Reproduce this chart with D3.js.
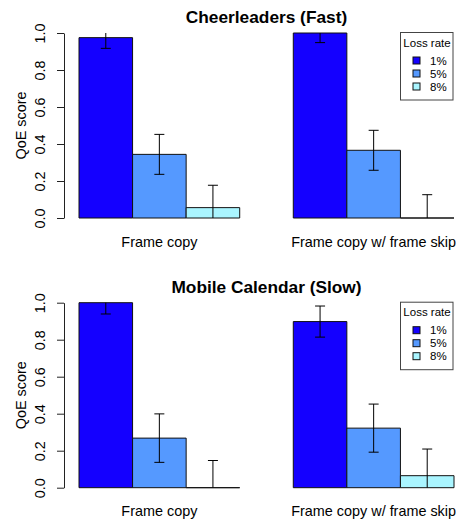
<!DOCTYPE html>
<html>
<head>
<meta charset="utf-8">
<script src="https://cdn.jsdelivr.net/npm/d3@7"></script>
<style>
  body { margin: 0; background: #fff; }
  svg { display: block; font-family: "Liberation Sans", Arial, Helvetica, sans-serif; }
</style>
</head>
<body>
<div id="chart"></div>
<script>
// chart data
var groups = ["Frame copy", "Frame copy w/ frame skip"];
var lossRates = ["1%", "5%", "8%"];
var lossColors = ["#1400ff", "#5599ff", "#aaf5ff"];
var yTicks = [0, 0.2, 0.4, 0.6, 0.8, 1.0];
var titles = ["Cheerleaders (Fast)", "Mobile Calendar (Slow)"];

// mean QoE per group (rows) and loss rate (cols)
var cheerValues = [[0.975, 0.344, 0.056], [1.0, 0.366, 0.0]];
var cheerErrors = [[0.058, 0.108, 0.121], [0.052, 0.108, 0.126]];
var calendarValues = [[1.0, 0.268, 0.0], [0.898, 0.322, 0.065]];
var calendarErrors = [[0.061, 0.131, 0.147], [0.084, 0.130, 0.144]];

var width = 459, height = 519;
var svg = d3.select("#chart").append("svg")
    .attr("width", width)
    .attr("height", height);

var x = d3.scaleLinear().domain([0.72, 8.28]).range([64, 469]);
var y = d3.scaleLinear().domain([0, 1]).range([218, 33]);

drawPanel(0, titles[0], cheerValues, cheerErrors);
drawPanel(269.7, titles[1], calendarValues, calendarErrors);

function drawPanel(offset, title, values, errors) {
    var g = svg.append("g").attr("transform", "translate(0," + offset + ")");

    // bars, R barplot(beside=TRUE) style positions: group g, bar i -> 1 + 4g + i
    var bars = [];
    values.forEach(function(row, gi) {
        row.forEach(function(v, i) {
            bars.push({g: gi, i: i, v: v, e: errors[gi][i], left: 1 + 4 * gi + i});
        });
    });

    g.selectAll(".bar")
        .data(bars)
      .enter().append("path")
        .attr("class", "bar")
        .attr("d", function(d) {
            var x0 = x(d.left), x1 = x(d.left + 1), y0 = y(0), y1 = y(d.v);
            return "M" + x0 + "," + y0 + "H" + x1 + "V" + y1 + "H" + x0 + "Z";
        })
        .style("fill", function(d) { return lossColors[d.i]; })
        .style("stroke", "#111")
        .style("stroke-width", 1);

    // error bars, clipped to [0, 1], caps only where not clipped
    var capW = 5;
    var err = g.selectAll(".err")
        .data(bars)
      .enter().append("g")
        .attr("class", "err")
        .style("stroke", "#000")
        .style("stroke-width", 1);

    err.append("line")
        .attr("x1", function(d) { return x(d.left + 0.5); })
        .attr("x2", function(d) { return x(d.left + 0.5); })
        .attr("y1", function(d) { return y(Math.max(0, d.v - d.e)); })
        .attr("y2", function(d) { return y(Math.min(1, d.v + d.e)); });

    err.filter(function(d) { return d.v + d.e <= 1; }).append("line")
        .attr("x1", function(d) { return x(d.left + 0.5) - capW; })
        .attr("x2", function(d) { return x(d.left + 0.5) + capW; })
        .attr("y1", function(d) { return y(d.v + d.e); })
        .attr("y2", function(d) { return y(d.v + d.e); });

    err.filter(function(d) { return d.v - d.e >= 0; }).append("line")
        .attr("x1", function(d) { return x(d.left + 0.5) - capW; })
        .attr("x2", function(d) { return x(d.left + 0.5) + capW; })
        .attr("y1", function(d) { return y(d.v - d.e); })
        .attr("y2", function(d) { return y(d.v - d.e); });

    // y axis
    var axis = g.append("g")
        .attr("transform", "translate(" + x(0.72) + ",0)")
        .call(d3.axisLeft(y).tickValues(yTicks).tickFormat(d3.format(".1f")).tickSize(7).tickSizeOuter(0));
    axis.select(".domain").attr("stroke", "#222");
    axis.selectAll(".tick line").attr("stroke", "#222");
    axis.selectAll(".tick text")
        .attr("x", 0)
        .attr("dy", null)
        .attr("y", -19.5)
        .attr("text-anchor", "middle")
        .attr("transform", "rotate(-90)")
        .style("font-family", "Liberation Sans, Arial, sans-serif")
        .style("font-size", "14.4px")
        .style("fill", "#000");

    g.append("text")
        .attr("transform", "translate(25.5," + (y(0.5)) + ") rotate(-90)")
        .attr("text-anchor", "middle")
        .style("font-size", "14.4px")
        .text("QoE score");

    // group labels
    g.selectAll(".glabel")
        .data(groups)
      .enter().append("text")
        .attr("class", "glabel")
        .attr("x", function(d, gi) { return x(2.5 + 4 * gi); })
        .attr("y", y(0) + 28.5)
        .attr("text-anchor", "middle")
        .style("font-size", "14.4px")
        .text(function(d) { return d; });

    // title
    g.append("text")
        .attr("x", (x(0.72) + x(8.28)) / 2)
        .attr("y", y(1) - 9.7)
        .attr("text-anchor", "middle")
        .style("font-size", "17.3px")
        .style("font-weight", "bold")
        .text(title);

    // legend
    var leg = g.append("g").attr("transform", "translate(400.5,32.5)");
    leg.append("rect")
        .attr("width", 52.5)
        .attr("height", 67.5)
        .style("fill", "#fff")
        .style("stroke", "#444")
        .style("stroke-width", 1);
    leg.append("text")
        .attr("x", 26.5)
        .attr("y", 14)
        .attr("text-anchor", "middle")
        .style("font-size", "11.5px")
        .text("Loss rate");
    var item = leg.selectAll(".item")
        .data(lossRates)
      .enter().append("g")
        .attr("class", "item")
        .attr("transform", function(d, i) { return "translate(0," + (28 + i * 13) + ")"; });
    item.append("rect")
        .attr("x", 12.5)
        .attr("y", -3.5)
        .attr("width", 7)
        .attr("height", 7)
        .style("fill", function(d, i) { return lossColors[i]; })
        .style("stroke", "#111");
    item.append("text")
        .attr("x", 29.5)
        .attr("y", 4)
        .style("font-size", "11.5px")
        .text(function(d) { return d; });
}
</script>
</body>
</html>
